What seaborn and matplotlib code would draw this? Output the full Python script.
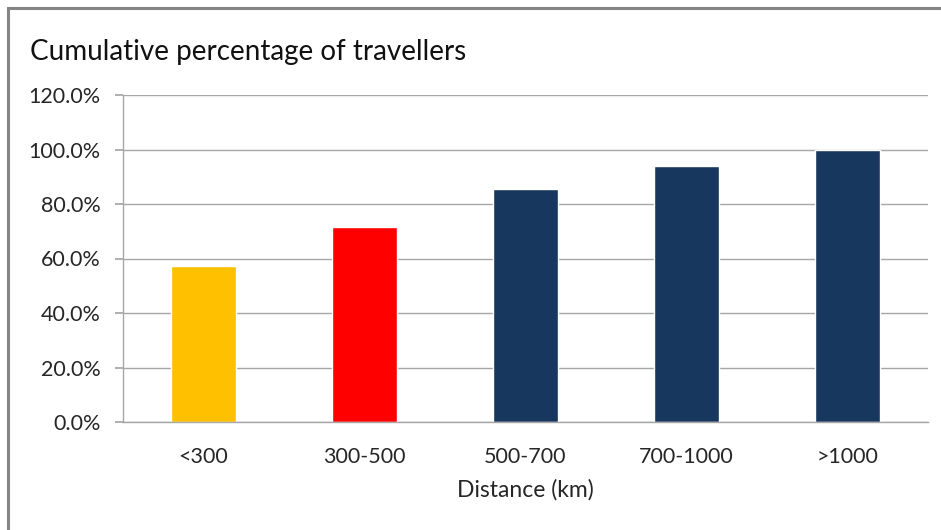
import matplotlib
matplotlib.use("Agg")
import matplotlib.pyplot as plt
import matplotlib.patches as mpatches
from matplotlib.ticker import FuncFormatter, MultipleLocator
import seaborn as sns
import pandas as pd

categories = ["<300", "300-500", "500-700", "700-1000", ">1000"]
values = [57.1, 71.4, 85.6, 94.1, 100.0]
colors = ["#FFC000", "#FF0000", "#17375E", "#17375E", "#17375E"]

sns.set_theme(style="white")
plt.rcParams['font.family'] = ['Lato', 'DejaVu Sans']

df = pd.DataFrame({"Distance": categories, "Pct": values})

fig = plt.figure(figsize=(9.41, 5.30), dpi=100)
fig.patch.set_facecolor("white")
ax = fig.add_axes([123/941, 1-422/530, (928-123)/941, (422-95)/530])

sns.barplot(data=df, x="Distance", y="Pct", hue="Distance", palette=colors,
            order=categories, hue_order=categories, width=0.4, legend=False,
            saturation=1, ax=ax)

ax.set_ylim(0, 120)
ax.yaxis.set_major_locator(MultipleLocator(20))
ax.yaxis.set_major_formatter(FuncFormatter(lambda v, p: f"{v:.1f}%"))
ax.grid(axis="y", color="#A6A6A6", lw=1)
ax.set_axisbelow(True)
for s in ["top", "right"]:
    ax.spines[s].set_visible(False)
ax.spines["left"].set_color("#A6A6A6")
ax.spines["bottom"].set_color("#A6A6A6")
ax.spines["left"].set_linewidth(1)
ax.spines["bottom"].set_linewidth(1)
ax.tick_params(axis="y", which="both", left=True, length=6, color="#A6A6A6",
               labelsize=15.5, labelcolor="#262626", pad=10)
ax.tick_params(axis="x", bottom=False, labelsize=15.5, labelcolor="#262626", pad=12)
ax.set_ylabel("")
ax.set_xlabel("Distance (km)", fontsize=16.5, color="#262626", labelpad=9)

fig.text(30/941, 1-52/530, "Cumulative percentage of travellers", fontsize=20,
         color="#111111", va="center", ha="left")

rect = mpatches.Rectangle((8/941, -0.1), 1.2, 1-8/530+0.1, transform=fig.transFigure,
                          fill=False, edgecolor="#858585", lw=2.2)
fig.patches.append(rect)

fig.savefig("out.png", dpi=100)
